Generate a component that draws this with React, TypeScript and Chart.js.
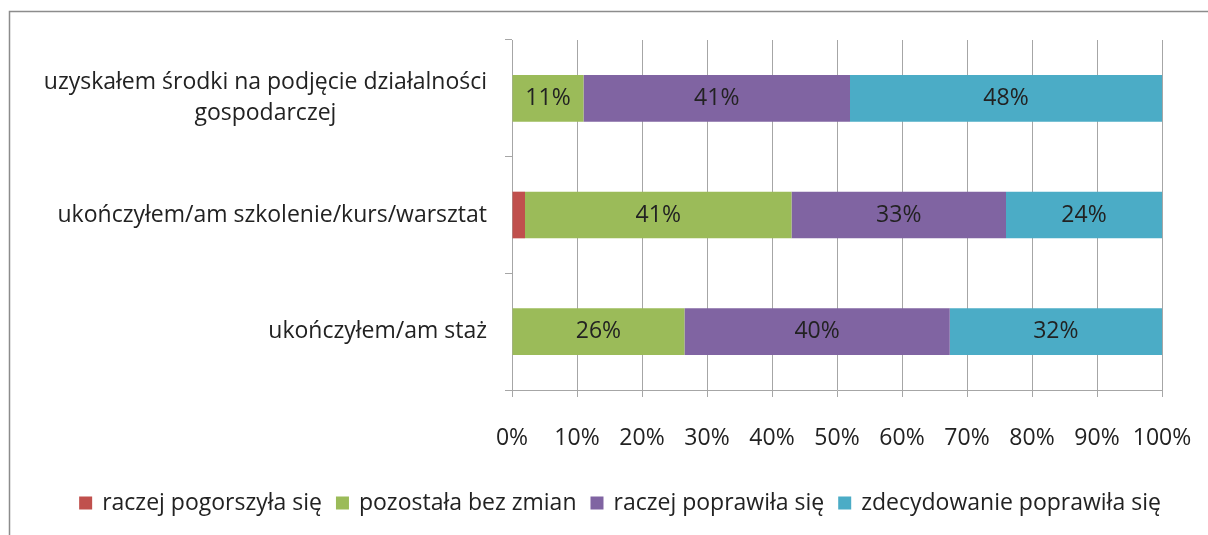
import React, { useEffect, useRef } from "react";
import { Chart, registerables } from "chart.js";

Chart.register(...registerables);

const FONT = "'Open Sans'";
const FONT_SIZE = 23;
const TEXT_COLOR = "#222222";

const categories: (string | string[])[] = [
  ["uzyskałem środki na podjęcie działalności", "gospodarczej"],
  "ukończyłem/am szkolenie/kurs/warsztat",
  "ukończyłem/am staż",
];
const seriesNames = [
  "raczej pogorszyła się",
  "pozostała bez zmian",
  "raczej poprawiła się",
  "zdecydowanie poprawiła się",
];
const worsened = [0, 2, 0];
const unchanged = [11, 41, 26];
const improved = [41, 33, 40];
const stronglyImproved = [48, 24, 32];
const seriesColors = ["#C0504D", "#9BBB59", "#8064A2", "#4BACC6"];
const xTickValues = [0, 10, 20, 30, 40, 50, 60, 70, 80, 90, 100];

const allSeries = [worsened, unchanged, improved, stronglyImproved];
const totals = categories.map((_, i) => allSeries.reduce((s, arr) => s + arr[i], 0));

const framePlugin = {
  id: "frame",
  beforeDraw(chart: any) {
    const ctx = chart.ctx;
    ctx.save();
    ctx.fillStyle = "#ffffff";
    ctx.fillRect(0, 0, chart.width, chart.height);
    ctx.strokeStyle = "#8c8c8c";
    ctx.lineWidth = 1.5;
    ctx.beginPath();
    ctx.moveTo(9.5, chart.height);
    ctx.lineTo(9.5, 11.5);
    ctx.lineTo(chart.width, 11.5);
    ctx.stroke();
    ctx.restore();
  },
};

const labelsPlugin = {
  id: "customLabels",
  afterDraw(chart: any) {
    const ctx = chart.ctx;
    const yScale = chart.scales.y;
    ctx.save();
    ctx.font = `${FONT_SIZE}px ${FONT}`;
    ctx.fillStyle = TEXT_COLOR;
    ctx.textBaseline = "middle";
    ctx.textAlign = "center";
    // category labels
    const right = chart.chartArea.left - 25;
    const lh = 31;
    categories.forEach((lab, i) => {
      const cy = yScale.getPixelForValue(i);
      const lines = Array.isArray(lab) ? lab : [lab];
      const w = Math.max(...lines.map((l) => ctx.measureText(l).width));
      lines.forEach((l, j) => {
        ctx.fillText(l, right - w / 2, cy + (j - (lines.length - 1) / 2) * lh);
      });
    });
    // data labels
    chart.data.datasets.forEach((ds: any, di: number) => {
      const meta = chart.getDatasetMeta(di);
      meta.data.forEach((el: any, i: number) => {
        const raw = allSeries[di][i];
        if (!raw) return;
        const text = raw + "%";
        const width = Math.abs(el.x - el.base);
        if (ctx.measureText(text).width + 6 > width) return;
        ctx.fillText(text, (el.x + el.base) / 2, el.y);
      });
    });
    // legend
    const box = 13;
    const gapBoxText = 10;
    const gapItems = 14;
    const widths = seriesNames.map((n) => box + gapBoxText + ctx.measureText(n).width);
    const total = widths.reduce((a, b) => a + b, 0) + gapItems * (seriesNames.length - 1);
    const centerX = 620;
    const ly = 503;
    let x = centerX - total / 2;
    ctx.textAlign = "left";
    seriesNames.forEach((n, i) => {
      ctx.fillStyle = seriesColors[i];
      ctx.fillRect(x, ly - box / 2, box, box);
      ctx.fillStyle = TEXT_COLOR;
      ctx.fillText(n, x + box + gapBoxText, ly);
      x += widths[i] + gapItems;
    });
    ctx.restore();
  },
};

export default function App() {
  const ref = useRef<HTMLCanvasElement | null>(null);
  useEffect(() => {
    if (!ref.current) return;
    const chart = new Chart(ref.current, {
      type: "bar",
      data: {
        labels: categories as any,
        datasets: seriesNames.map((name, si) => ({
          label: name,
          data: allSeries[si].map((v, i) => (v / totals[i]) * 100),
          backgroundColor: seriesColors[si],
          borderWidth: 0,
          categoryPercentage: 1,
          barPercentage: 0.4,
        })),
      },
      options: {
        indexAxis: "y",
        animation: false,
        responsive: false,
        layout: { padding: { top: 40, right: 46, left: 0, bottom: 59 } },
        plugins: {
          legend: { display: false },
          tooltip: { enabled: false },
        },
        scales: {
          x: {
            stacked: true,
            min: 0,
            max: 100,
            afterBuildTicks: (scale: any) => {
              scale.ticks = xTickValues.map((v) => ({ value: v }));
            },
            afterFit: (scale: any) => {
              scale.height = 86;
              scale.paddingRight = 0;
              scale.paddingLeft = 0;
            },
            ticks: {
              callback: (v: any) => v + "%",
              font: { family: FONT, size: FONT_SIZE },
              color: TEXT_COLOR,
              padding: 28,
              maxRotation: 0,
            },
            grid: { color: "#a6a6a6", tickLength: 7, lineWidth: 1 },
            border: { color: "#a6a6a6" },
          },
          y: {
            stacked: true,
            ticks: { display: false },
            afterFit: (scale: any) => {
              scale.width = 512;
            },
            grid: { color: "#a6a6a6", drawOnChartArea: false, tickLength: 7, offset: true },
            border: { color: "#a6a6a6" },
          },
        },
      },
      plugins: [framePlugin, labelsPlugin],
    });
    return () => chart.destroy();
  }, []);
  return (
    <div style={{ position: "absolute", left: 0, top: 0, width: 1208, height: 535 }}>
      <canvas ref={ref} width={1208} height={535} />
    </div>
  );
}
